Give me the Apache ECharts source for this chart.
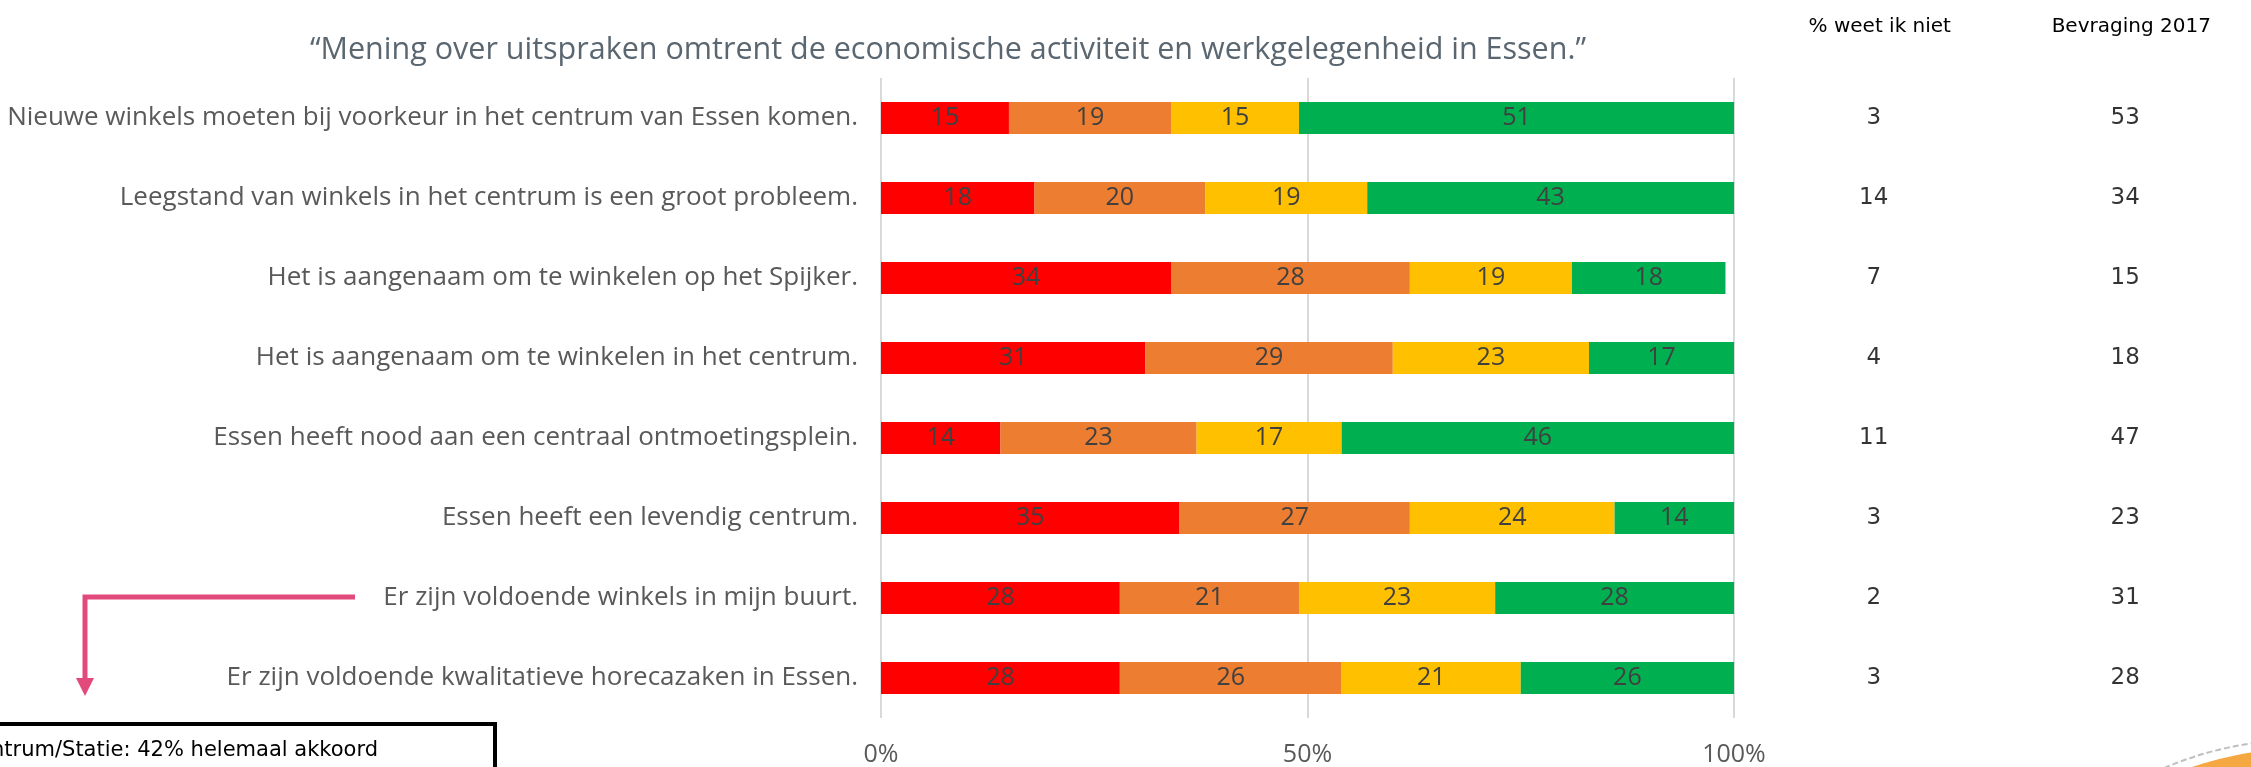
<!DOCTYPE html>
<html>
<head>
<meta charset="utf-8">
<script src="https://cdn.jsdelivr.net/npm/echarts@6/dist/echarts.min.js"></script>
<style>
  html, body { margin: 0; padding: 0; background: #ffffff; }
  #chart { width: 2251px; height: 767px; }
</style>
</head>
<body>
<div id="chart"></div>
<script>
// Statements (top to bottom)
const categories = [
  'Nieuwe winkels moeten bij voorkeur in het centrum van Essen komen.',
  'Leegstand van winkels in het centrum is een groot probleem.',
  'Het is aangenaam om te winkelen op het Spijker.',
  'Het is aangenaam om te winkelen in het centrum.',
  'Essen heeft nood aan een centraal ontmoetingsplein.',
  'Essen heeft een levendig centrum.',
  'Er zijn voldoende winkels in mijn buurt.',
  'Er zijn voldoende kwalitatieve horecazaken in Essen.'
];

// Answer shares (%) per statement, from disagree to agree
const helemaalNietAkkoord = [15, 18, 34, 31, 14, 35, 28, 28];
const nietAkkoord         = [19, 20, 28, 29, 23, 27, 21, 26];
const akkoord             = [15, 19, 19, 23, 17, 24, 23, 21];
const helemaalAkkoord     = [51, 43, 18, 17, 46, 14, 28, 26];

// Side columns
const sideColumns = ['% weet ik niet', 'Bevraging 2017'];
const weetIkNiet    = [3, 14, 7, 4, 11, 3, 2, 3];
const bevraging2017 = [53, 34, 15, 18, 47, 23, 31, 28];

const xTicks = [0, 50, 100];

const chart = echarts.init(document.getElementById('chart'), null, { renderer: 'canvas' });

const barLabel = {
  show: true,
  position: 'inside',
  color: '#404040',
  fontFamily: 'Open Sans',
  fontSize: 25
};

function barSeries(name, values, color) {
  return {
    name: name,
    type: 'bar',
    stack: 'total',
    xAxisIndex: 0,
    yAxisIndex: 0,
    barWidth: 32,
    itemStyle: { color: color },
    label: barLabel,
    data: values
  };
}

function sideSeries(colIndex, values) {
  return {
    type: 'scatter',
    xAxisIndex: 1,
    yAxisIndex: 1,
    symbolSize: 0,
    silent: true,
    label: {
      show: true,
      position: 'inside',
      color: '#000000',
      fontFamily: 'DejaVu Sans',
      fontSize: 23,
      formatter: p => String(p.value[2])
    },
    data: values.map((v, i) => [colIndex, i, v])
  };
}

const option = {
  backgroundColor: '#ffffff',
  animation: false,
  grid: [
    { left: 881, right: 517, top: 78, height: 640 },
    { left: 1748, width: 518, top: 78, height: 640 }
  ],
  xAxis: [
    {
      type: 'value',
      gridIndex: 0,
      min: 0,
      max: 100,
      interval: 50,
      axisLine: { show: false },
      axisTick: { show: false },
      splitLine: { show: true, lineStyle: { color: '#D9D9D9', width: 2 } },
      axisLabel: {
        formatter: v => xTicks.includes(v) ? v + '%' : '',
        color: '#595959',
        fontFamily: 'Open Sans',
        fontSize: 25,
        margin: 24
      }
    },
    {
      type: 'category',
      gridIndex: 1,
      position: 'top',
      data: sideColumns,
      axisLine: { show: false },
      axisTick: { show: false },
      splitLine: { show: false },
      axisLabel: {
        color: '#000000',
        fontFamily: 'DejaVu Sans',
        fontSize: 20,
        margin: 41,
        padding: [0, 0, 0, 12]
      }
    }
  ],
  yAxis: [
    {
      type: 'category',
      gridIndex: 0,
      inverse: true,
      data: categories,
      axisLine: { show: false },
      axisTick: { show: false },
      axisLabel: {
        color: '#595959',
        fontFamily: 'Open Sans',
        fontSize: 26,
        margin: 23
      }
    },
    {
      type: 'category',
      gridIndex: 1,
      inverse: true,
      data: categories,
      show: false
    }
  ],
  series: [
    barSeries('Helemaal niet akkoord', helemaalNietAkkoord, '#FF0000'),
    barSeries('Niet akkoord', nietAkkoord, '#ED7D31'),
    barSeries('Akkoord', akkoord, '#FFC000'),
    barSeries('Helemaal akkoord', helemaalAkkoord, '#00B050'),
    sideSeries(0, weetIkNiet),
    sideSeries(1, bevraging2017)
  ],
  graphic: [
    {
      type: 'text',
      x: 948,
      y: 50,
      style: {
        text: '\u201CMening over uitspraken omtrent de economische activiteit en werkgelegenheid in Essen.\u201D',
        fill: '#5A6670',
        font: '30.5px "Open Sans"',
        textAlign: 'center',
        textVerticalAlign: 'middle'
      }
    },
    // callout arrow
    {
      type: 'polyline',
      shape: { points: [[355, 597], [85, 597], [85, 682]] },
      style: { stroke: '#E24A7C', lineWidth: 5, fill: null }
    },
    {
      type: 'polygon',
      shape: { points: [[76, 678], [94, 678], [85, 696]] },
      style: { fill: '#E24A7C' }
    },
    // callout box
    {
      type: 'rect',
      shape: { x: -20, y: 724, width: 515, height: 80 },
      style: { fill: '#ffffff', stroke: '#000000', lineWidth: 4 }
    },
    {
      type: 'text',
      x: 378,
      y: 751,
      style: {
        text: 'Centrum/Statie: 42% helemaal akkoord',
        fill: '#000000',
        font: '21px "DejaVu Sans"',
        textAlign: 'right',
        textVerticalAlign: 'middle'
      }
    },
    // corner emblem
    {
      type: 'circle',
      shape: { cx: 2300, cy: 1083, r: 343 },
      style: { fill: null, stroke: '#BFBFBF', lineWidth: 2, lineDash: [6, 3] }
    },
    {
      type: 'circle',
      shape: { cx: 2300, cy: 1083, r: 334 },
      style: { fill: '#F5A742' }
    }
  ]
};

chart.setOption(option);
</script>
</body>
</html>
